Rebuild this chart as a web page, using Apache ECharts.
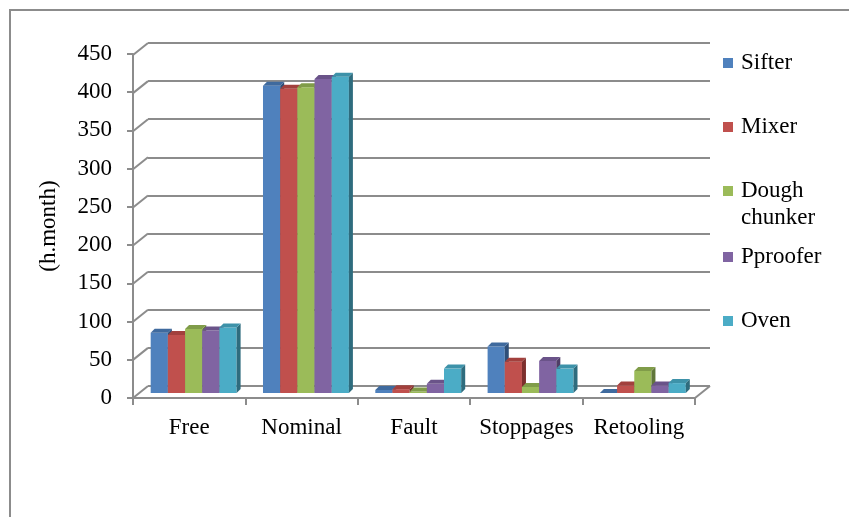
<!DOCTYPE html>
<html>
<head>
<meta charset="utf-8">
<script src="https://cdn.jsdelivr.net/npm/echarts@6/dist/echarts.min.js"></script>
<style>html,body{margin:0;padding:0;background:#fff;}#c{width:849px;height:517px;}</style>
</head>
<body>
<div id="c"></div>
<script>
var categories = ['Free', 'Nominal', 'Fault', 'Stoppages', 'Retooling'];
var seriesNames = ['Sifter', 'Mixer', 'Dough chunker', 'Pproofer', 'Oven'];
var sifter = [79, 403, 4, 61, 0];
var mixer = [76, 399, 5, 41, 10];
var dough = [84, 401, 2, 8, 29];
var pproofer = [82, 412, 12, 42, 10];
var oven = [86, 415, 32, 32, 13];
var yTicks = [0, 50, 100, 150, 200, 250, 300, 350, 400, 450];

var values = [sifter, mixer, dough, pproofer, oven];
var fronts = ['#4F81BD', '#C0504D', '#9BBB59', '#8064A2', '#4BACC6'];
var sides = ['#2F4F78', '#7D2F2D', '#60763A', '#4F3D66', '#2E6C7E'];
var tops = ['#3F6A9E', '#A2403D', '#809C49', '#6A5389', '#3D92A9'];
var FONT = 'Liberation Serif';
var FS = 23;
var GREY = '#8c8c8c';

function barRender(si) {
  return function (params, api) {
    var idx = api.value(0), v = api.value(1);
    var base = api.coord([idx, 0]);
    var tp = api.coord([idx, v]);
    var band = api.size([1, 0])[0];
    var bw = band * 0.153;
    var x0 = base[0] - 2.5 * bw + si * bw;
    var x1 = x0 + bw;
    var y0 = base[1], y1 = tp[1];
    var d = 4;
    return {
      type: 'group',
      children: [
        {type: 'rect', shape: {x: x0, y: y1, width: bw, height: y0 - y1}, style: {fill: fronts[si]}},
        {type: 'polygon', shape: {points: [[x1, y0], [x1 + d, y0 - d], [x1 + d, y1 - d], [x1, y1]]},
         style: {fill: sides[si]}},
        {type: 'polygon', shape: {points: [[x0, y1], [x0 + d, y1 - d], [x1 + d, y1 - d], [x1, y1]]},
         style: {fill: tops[si]}}
      ]
    };
  };
}

function diagRender(params, api) {
  var v = api.value(0);
  var p = api.coord([0, v]);
  var left = params.coordSys.x;
  var right = params.coordSys.x + params.coordSys.width;
  var children = [{type: 'line', shape: {x1: left - 15, y1: p[1] + 12, x2: left, y2: p[1]},
    style: {stroke: GREY, lineWidth: 2}}];
  if (v === 0) {
    children.push({type: 'line', shape: {x1: right - 15, y1: p[1] + 12, x2: right, y2: p[1]},
      style: {stroke: GREY, lineWidth: 2}});
  }
  return {type: 'group', children: children};
}

var legendCenters = [63, 127, 191, 257, 321];
var legends = seriesNames.map(function (n, i) {
  var isMulti = n === 'Dough chunker';
  return {
    data: [n],
    orient: 'vertical',
    left: 723,
    top: isMulti ? legendCenters[i] - 40.5 : legendCenters[i] - 13,
    padding: 0,
    icon: 'rect',
    itemWidth: 10,
    itemHeight: 10,
    selectedMode: false,
    formatter: function (name) { return name === 'Dough chunker' ? ' \nDough\nchunker' : name; },
    textStyle: {fontFamily: FONT, fontSize: FS, color: '#000', lineHeight: isMulti ? 27 : 26,
      padding: [0, 0, 0, 3]}
  };
});

var series = seriesNames.map(function (n, i) {
  return {
    name: n, type: 'custom', xAxisIndex: 2, yAxisIndex: 2,
    itemStyle: {color: fronts[i]},
    renderItem: barRender(i),
    data: values[i].map(function (v, j) { return [j, v]; }),
    z: 5
  };
});
series.unshift({
  type: 'custom', xAxisIndex: 0, yAxisIndex: 0, silent: true,
  renderItem: diagRender,
  data: yTicks.map(function (t) { return [t]; }),
  encode: {y: 0},
  z: 1
});

var chart = echarts.init(document.getElementById('c'));
chart.setOption({
  animation: false,
  backgroundColor: '#fff',
  graphic: [{
    type: 'polyline', silent: true,
    shape: {points: [[10, 520], [10, 10], [852, 10]]},
    style: {stroke: GREY, lineWidth: 2, fill: null}
  }],
  legend: legends,
  grid: [
    {left: 148, right: 139, top: 43, bottom: 131},
    {left: 133, right: 154, top: 54, bottom: 119},
    {left: 137.5, right: 150, top: 50, bottom: 124}
  ],
  xAxis: [
    {gridIndex: 0, type: 'category', data: categories, show: false},
    {gridIndex: 1, type: 'category', data: categories,
     axisLine: {lineStyle: {color: GREY, width: 2}},
     axisTick: {show: true, length: 7, lineStyle: {color: GREY, width: 2}},
     axisLabel: {fontFamily: FONT, fontSize: FS, color: '#000', margin: 18, interval: 0,
       hideOverlap: false}},
    {gridIndex: 2, type: 'category', data: categories, show: false}
  ],
  yAxis: [
    {gridIndex: 0, type: 'value', min: 0, max: 450, interval: 50,
     axisLine: {show: false}, axisTick: {show: false}, axisLabel: {show: false},
     splitLine: {show: true, lineStyle: {color: GREY, width: 2}}},
    {gridIndex: 1, type: 'value', min: 0, max: 450, interval: 50,
     name: '(h.month)', nameLocation: 'middle', nameGap: 73, nameRotate: 90,
     nameTextStyle: {fontFamily: FONT, fontSize: FS, color: '#000'},
     axisLine: {show: true, lineStyle: {color: GREY, width: 2}},
     axisTick: {show: true, length: 6, lineStyle: {color: GREY, width: 2}},
     axisLabel: {fontFamily: FONT, fontSize: FS, color: '#000', margin: 21},
     splitLine: {show: false}},
    {gridIndex: 2, type: 'value', min: 0, max: 450, interval: 50, show: false}
  ],
  series: series
});
</script>
</body>
</html>
